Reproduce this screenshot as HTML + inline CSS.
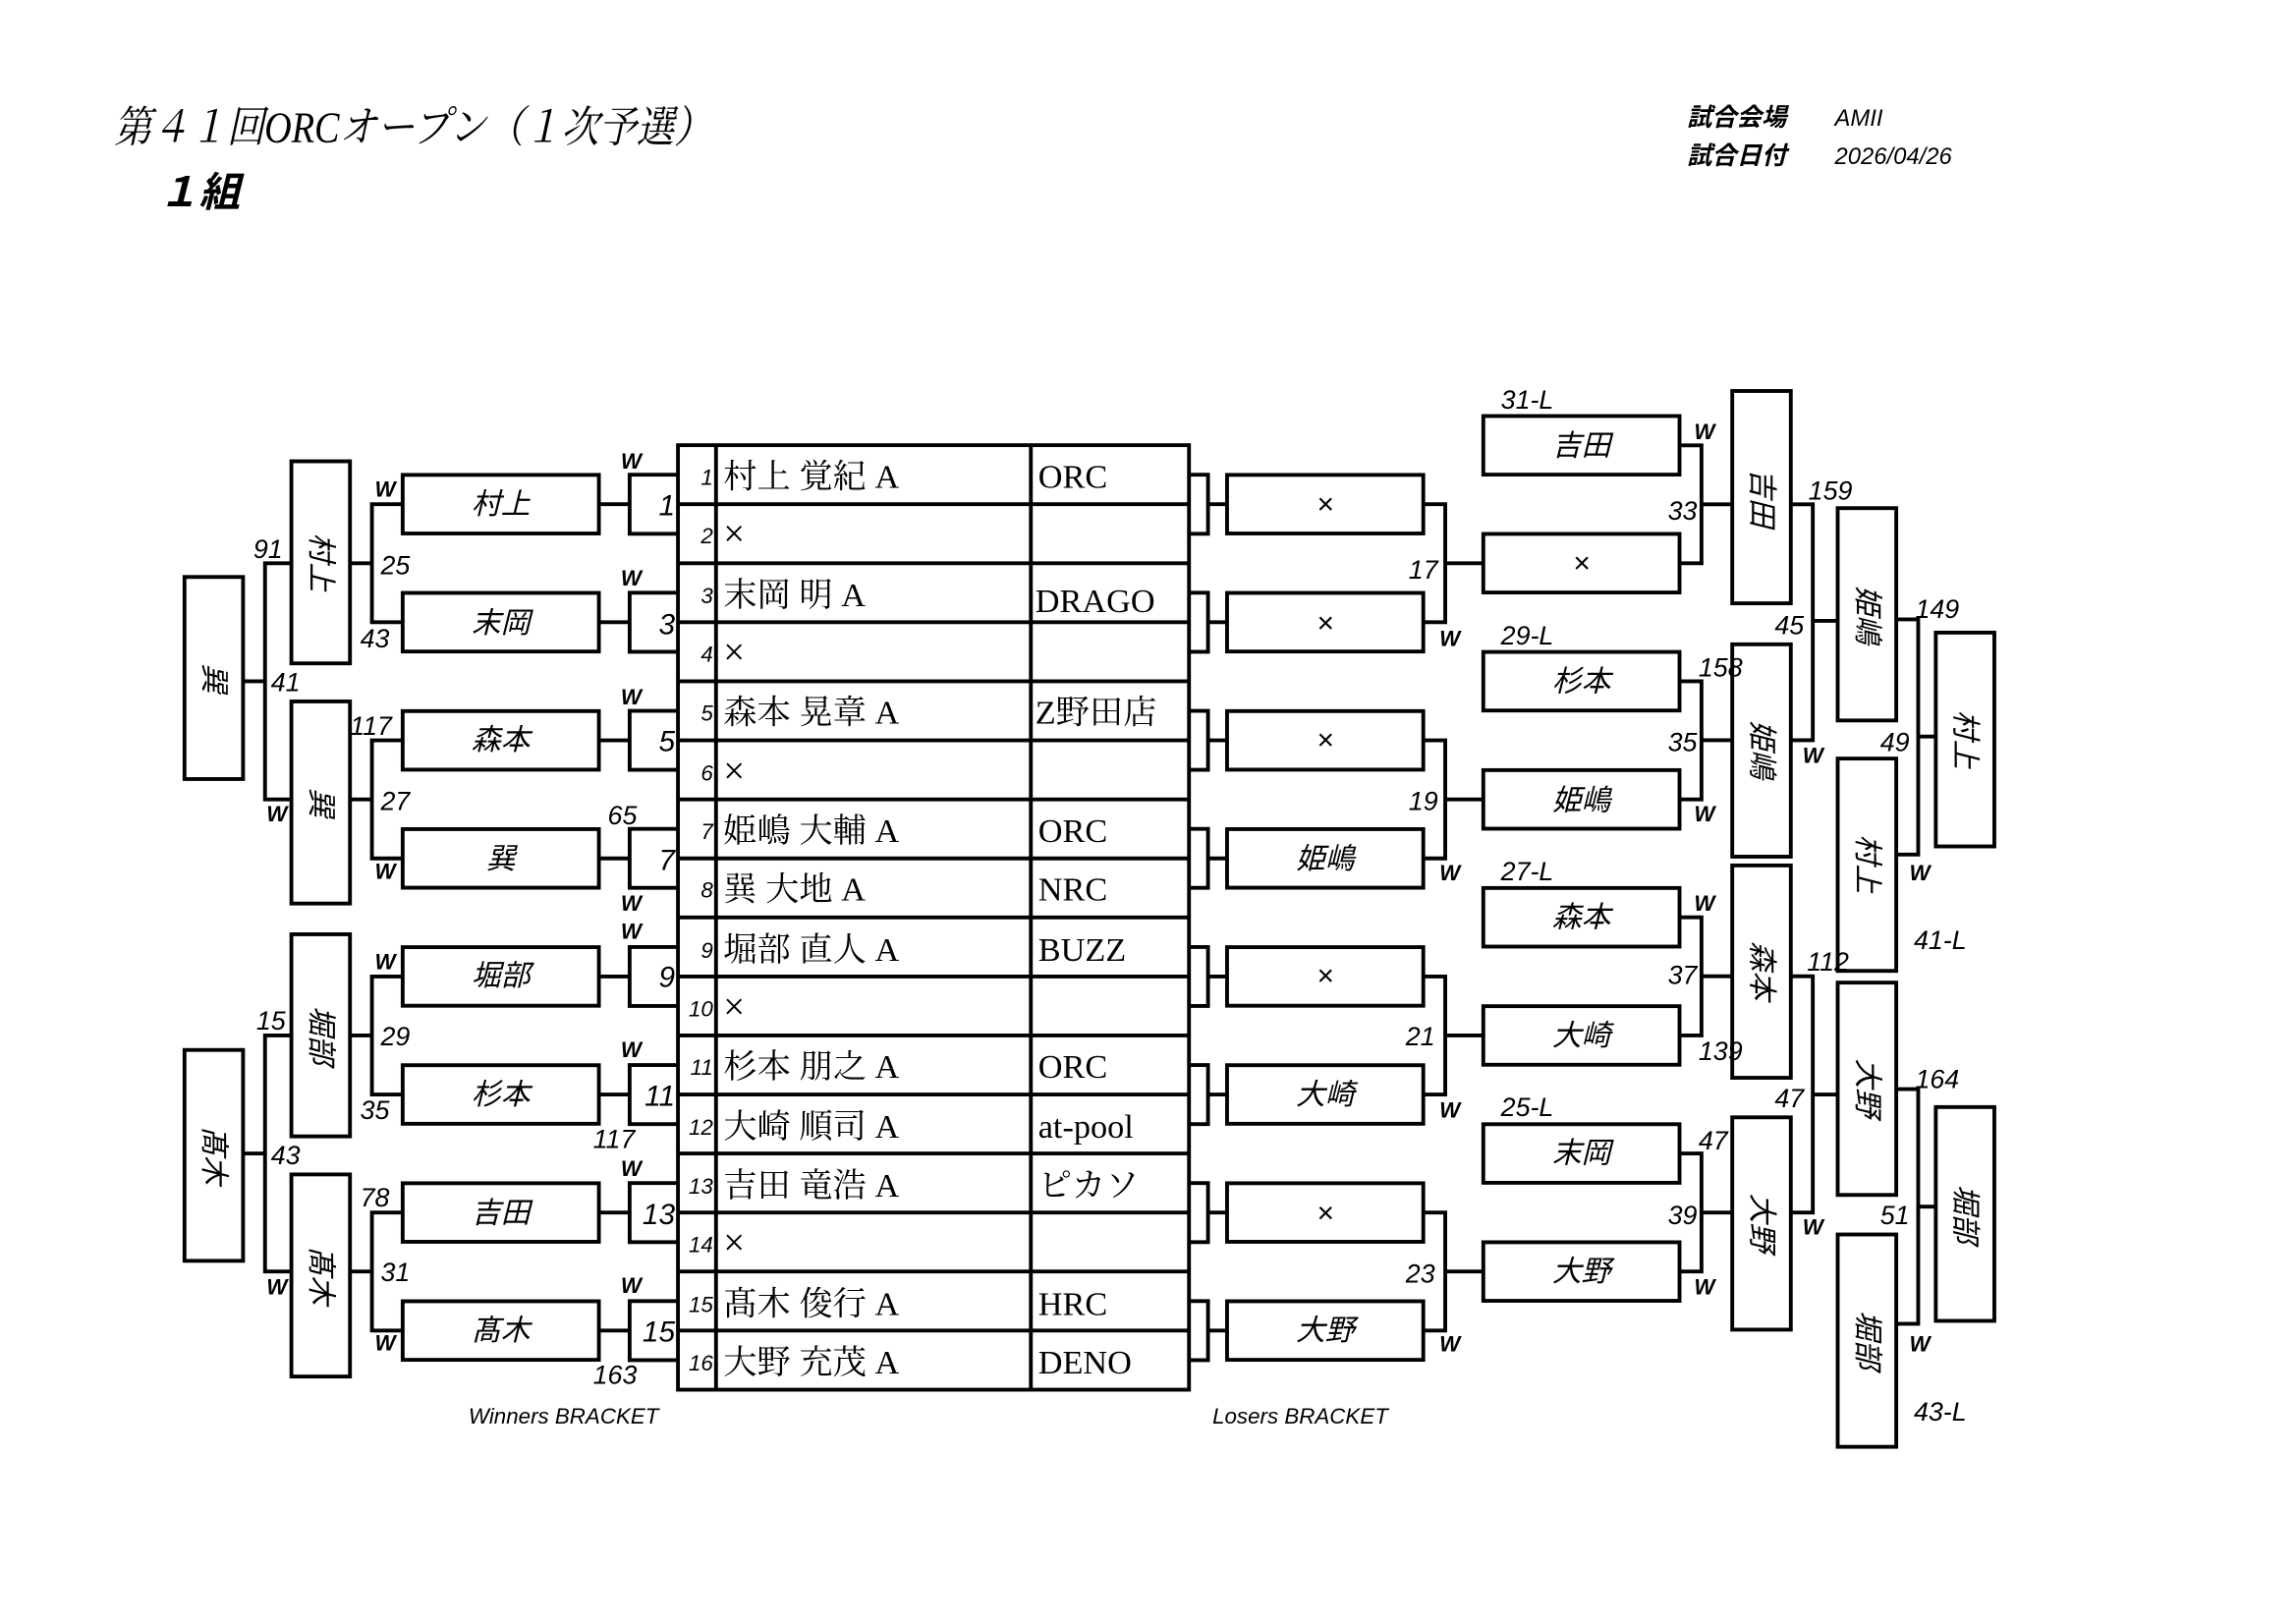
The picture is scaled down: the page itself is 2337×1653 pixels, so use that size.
<!DOCTYPE html>
<html><head><meta charset="utf-8"><style>
html,body{margin:0;padding:0;background:#fff;}
svg{display:block}
.j{font-family:"Liberation Sans","Noto Sans CJK JP",sans-serif;font-style:italic}
.s{font-family:"Liberation Serif","Noto Serif CJK JP",serif}
</style></head><body>
<svg width="2337" height="1653" viewBox="0 0 1568 1109" preserveAspectRatio="none" xmlns="http://www.w3.org/2000/svg">
<rect width="1568" height="1109" fill="#fff"/>
<text x="78" y="97" class="s" font-size="27" font-style="italic" transform="translate(78 97) scale(0.95 1.1) translate(-78 -97)">第４１回ORCオープン（１次予選）</text>
<text x="108" y="141" class="j" font-size="28" font-weight="bold">１組</text>
<text x="1152" y="86" class="j" font-size="17" font-weight="bold">試合会場</text>
<text x="1253" y="86" class="j" font-size="16">AMII</text>
<text x="1152" y="112" class="j" font-size="17" font-weight="bold">試合日付</text>
<text x="1253" y="112" class="j" font-size="16">2026/04/26</text>

<g fill="none" stroke="#000" stroke-width="2.6">
<rect x="463" y="304" width="349" height="645"/>
<path d="M489 304V949M704 304V949"/>
<path d="M463 344.3H812M463 384.6H812M463 424.9H812M463 465.2H812M463 505.6H812M463 545.9H812M463 586.2H812M463 626.5H812M463 666.8H812M463 707.1H812M463 747.4H812M463 787.7H812M463 828H812M463 868.3H812M463 908.6H812"/>
<path d="M463 324.2H430V364.5H463M430 344.3H409"/>
<path d="M463 404.8H430V445.1H463M430 424.9H409"/>
<path d="M463 485.4H430V525.7H463M430 505.6H409"/>
<path d="M463 566H430V606.3H463M430 586.2H409"/>
<path d="M463 646.7H430V687H463M430 666.8H409"/>
<path d="M463 727.3H430V767.6H463M430 747.4H409"/>
<path d="M463 807.9H430V848.2H463M430 828H409"/>
<path d="M463 888.5H430V928.8H463M430 908.6H409"/>
<rect x="275" y="324.3" width="134" height="40"/>
<rect x="275" y="404.9" width="134" height="40"/>
<rect x="275" y="485.6" width="134" height="40"/>
<rect x="275" y="566.2" width="134" height="40"/>
<rect x="275" y="646.8" width="134" height="40"/>
<rect x="275" y="727.4" width="134" height="40"/>
<rect x="275" y="808" width="134" height="40"/>
<rect x="275" y="888.6" width="134" height="40"/>
<path d="M275 344.3H254V424.9H275M254 384.6H239"/>
<path d="M275 505.6H254V586.2H275M254 545.9H239"/>
<path d="M275 666.8H254V747.4H275M254 707.1H239"/>
<path d="M275 828H254V908.6H275M254 868.3H239"/>
<rect x="199" y="315" width="40" height="138"/>
<rect x="199" y="479" width="40" height="138"/>
<rect x="199" y="638" width="40" height="138"/>
<rect x="199" y="802" width="40" height="138"/>
<path d="M199 384.6H181V545.9H199M181 465.2H166"/>
<path d="M199 707.1H181V868.3H199M181 787.7H166"/>
<rect x="126" y="394" width="40" height="138"/>
<rect x="126" y="717" width="40" height="144"/>
<path d="M812 324.2H825V364.5H812M825 344.3H838"/>
<path d="M812 404.8H825V445.1H812M825 424.9H838"/>
<path d="M812 485.4H825V525.7H812M825 505.6H838"/>
<path d="M812 566H825V606.3H812M825 586.2H838"/>
<path d="M812 646.7H825V687H812M825 666.8H838"/>
<path d="M812 727.3H825V767.6H812M825 747.4H838"/>
<path d="M812 807.9H825V848.2H812M825 828H838"/>
<path d="M812 888.5H825V928.8H812M825 908.6H838"/>
<rect x="838" y="324.3" width="134" height="40"/>
<rect x="838" y="404.9" width="134" height="40"/>
<rect x="838" y="485.6" width="134" height="40"/>
<rect x="838" y="566.2" width="134" height="40"/>
<rect x="838" y="646.8" width="134" height="40"/>
<rect x="838" y="727.4" width="134" height="40"/>
<rect x="838" y="808" width="134" height="40"/>
<rect x="838" y="888.6" width="134" height="40"/>
<path d="M972 344.3H987V424.9H972M987 384.6H1013"/>
<path d="M972 505.6H987V586.2H972M987 545.9H1013"/>
<path d="M972 666.8H987V747.4H972M987 707.1H1013"/>
<path d="M972 828H987V908.6H972M987 868.3H1013"/>
<rect x="1013" y="284.1" width="134" height="40"/>
<rect x="1013" y="364.6" width="134" height="40"/>
<rect x="1013" y="445.2" width="134" height="40"/>
<rect x="1013" y="525.9" width="134" height="40"/>
<rect x="1013" y="606.4" width="134" height="40"/>
<rect x="1013" y="687.1" width="134" height="40"/>
<rect x="1013" y="767.7" width="134" height="40"/>
<rect x="1013" y="848.3" width="134" height="40"/>
<path d="M1147 304.1H1162V384.6H1147M1162 344.4H1183"/>
<path d="M1147 465.2H1162V545.9H1147M1162 505.5H1183"/>
<path d="M1147 626.4H1162V707.1H1147M1162 666.7H1183"/>
<path d="M1147 787.7H1162V868.3H1147M1162 828H1183"/>
<rect x="1183" y="267" width="40" height="145"/>
<rect x="1183" y="440" width="40" height="145"/>
<rect x="1183" y="591" width="40" height="145"/>
<rect x="1183" y="763" width="40" height="145"/>
<path d="M1223 344.4H1238V505.5H1223M1238 424H1255"/>
<path d="M1223 666.7H1238V828H1223M1238 747.4H1255"/>
<rect x="1255" y="347" width="40" height="145"/>
<rect x="1255" y="518" width="40" height="145"/>
<rect x="1255" y="671" width="40" height="145"/>
<rect x="1255" y="843" width="40" height="145"/>
<path d="M1295 423H1310V583.6H1295M1310 503H1322"/>
<path d="M1295 743.7H1310V904H1295M1310 824H1322"/>
<rect x="1322" y="432" width="40" height="146"/>
<rect x="1322" y="756" width="40" height="146"/>
</g>

<g class="j" font-size="15" text-anchor="end">
<text x="487" y="331">1</text><text x="487" y="371">2</text><text x="487" y="412">3</text><text x="487" y="452">4</text>
<text x="487" y="492">5</text><text x="487" y="533">6</text><text x="487" y="573">7</text><text x="487" y="613">8</text>
<text x="487" y="654">9</text><text x="487" y="694">10</text><text x="487" y="734">11</text><text x="487" y="775">12</text>
<text x="487" y="815">13</text><text x="487" y="855">14</text><text x="487" y="896">15</text><text x="487" y="936">16</text>
</g>
<g class="s" font-size="23">
<text x="494" y="333">村上 覚紀 A</text><text x="494" y="373" font-size="26">×</text>
<text x="494" y="414">末岡 明 A</text><text x="494" y="454" font-size="26">×</text>
<text x="494" y="494">森本 晃章 A</text><text x="494" y="535" font-size="26">×</text>
<text x="494" y="575">姫嶋 大輔 A</text><text x="494" y="615">巽 大地 A</text>
<text x="494" y="656">堀部 直人 A</text><text x="494" y="696" font-size="26">×</text>
<text x="494" y="736">杉本 朋之 A</text><text x="494" y="777">大崎 順司 A</text>
<text x="494" y="817">吉田 竜浩 A</text><text x="494" y="857" font-size="26">×</text>
<text x="494" y="898">髙木 俊行 A</text><text x="494" y="938">大野 充茂 A</text>
<text x="709" y="333">ORC</text><text x="707" y="418">DRAGO</text>
<text x="707" y="494">Z野田店</text><text x="709" y="575">ORC</text>
<text x="709" y="615">NRC</text><text x="709" y="656">BUZZ</text>
<text x="709" y="736">ORC</text><text x="709" y="777">at-pool</text>
<text x="709" y="817">ピカソ</text><text x="709" y="898">HRC</text><text x="709" y="938">DENO</text>
</g>

<g class="j" font-size="20" text-anchor="middle">
<text x="342" y="351">村上</text><text x="342" y="432">末岡</text><text x="342" y="512">森本</text><text x="342" y="593">巽</text>
<text x="342" y="673">堀部</text><text x="342" y="754">杉本</text><text x="342" y="835">吉田</text><text x="342" y="915">髙木</text>
<text x="905" y="351">×</text><text x="905" y="432">×</text><text x="905" y="512">×</text><text x="905" y="593">姫嶋</text>
<text x="905" y="673">×</text><text x="905" y="754">大崎</text><text x="905" y="835">×</text><text x="905" y="915">大野</text>
<text x="1080" y="311">吉田</text><text x="1080" y="391">×</text><text x="1080" y="472">杉本</text><text x="1080" y="553">姫嶋</text>
<text x="1080" y="633">森本</text><text x="1080" y="714">大崎</text><text x="1080" y="794">末岡</text><text x="1080" y="875">大野</text>
</g>
<g class="j" font-size="20" text-anchor="middle" dominant-baseline="central">
<text transform="translate(219 384) rotate(90)">村上</text>
<text transform="translate(219 548) rotate(90)">巽</text>
<text transform="translate(219 707) rotate(90)">堀部</text>
<text transform="translate(219 871) rotate(90)">髙木</text>
<text transform="translate(146 463) rotate(90)">巽</text>
<text transform="translate(146 789) rotate(90)">髙木</text>
<text transform="translate(1203 340) rotate(90)">吉田</text>
<text transform="translate(1203 512) rotate(90)">姫嶋</text>
<text transform="translate(1203 663) rotate(90)">森本</text>
<text transform="translate(1203 835) rotate(90)">大野</text>
<text transform="translate(1275 420) rotate(90)">姫嶋</text>
<text transform="translate(1275 590) rotate(90)">村上</text>
<text transform="translate(1275 743) rotate(90)">大野</text>
<text transform="translate(1275 915) rotate(90)">堀部</text>
<text transform="translate(1342 505) rotate(90)">村上</text>
<text transform="translate(1342 829) rotate(90)">堀部</text>
</g>

<g class="j" font-size="20" text-anchor="end">
<text x="461" y="352">1</text><text x="461" y="433">3</text><text x="461" y="513">5</text><text x="461" y="594">7</text>
<text x="461" y="674">9</text><text x="461" y="755">11</text><text x="461" y="836">13</text><text x="461" y="916">15</text>
</g>
<g class="j" font-size="18">
<text x="260" y="392">25</text><text x="246" y="442">43</text><text x="239" y="502">117</text><text x="260" y="553">27</text>
<text x="415" y="563">65</text><text x="260" y="714">29</text><text x="246" y="764">35</text><text x="405" y="784">117</text>
<text x="246" y="824">78</text><text x="260" y="875">31</text><text x="405" y="945">163</text>
<text x="173" y="381">91</text><text x="185" y="472">41</text><text x="175" y="703">15</text><text x="185" y="795">43</text>
<text x="962" y="395">17</text><text x="962" y="553">19</text><text x="960" y="714">21</text><text x="960" y="876">23</text>
<text x="1139" y="355">33</text><text x="1160" y="462">158</text><text x="1139" y="513">35</text>
<text x="1139" y="672">37</text><text x="1160" y="724">139</text><text x="1160" y="785">47</text><text x="1139" y="836">39</text>
<text x="1235" y="341">159</text><text x="1212" y="433">45</text><text x="1234" y="663">112</text><text x="1212" y="756">47</text>
<text x="1308" y="422">149</text><text x="1284" y="513">49</text><text x="1308" y="743">164</text><text x="1284" y="836">51</text>
<text x="1025" y="279">31-L</text><text x="1025" y="440">29-L</text><text x="1025" y="601">27-L</text><text x="1025" y="762">25-L</text>
<text x="1307" y="648">41-L</text><text x="1307" y="970">43-L</text>
</g>
<g class="j" font-size="15" font-weight="bold">
<text x="424" y="320">W</text><text x="424" y="400">W</text><text x="424" y="481">W</text><text x="424" y="622">W</text>
<text x="424" y="641">W</text><text x="424" y="722">W</text><text x="424" y="803">W</text><text x="424" y="883">W</text>
<text x="256" y="339">W</text><text x="256" y="600">W</text><text x="256" y="662">W</text><text x="256" y="922">W</text>
<text x="182" y="561">W</text><text x="182" y="884">W</text>
<text x="983" y="441">W</text><text x="983" y="601">W</text><text x="983" y="763">W</text><text x="983" y="923">W</text>
<text x="1157" y="300">W</text><text x="1157" y="561">W</text><text x="1157" y="622">W</text><text x="1157" y="884">W</text>
<text x="1231" y="521">W</text><text x="1231" y="843">W</text>
<text x="1304" y="601">W</text><text x="1304" y="923">W</text>
</g>
<text x="320" y="972" font-family="Liberation Sans,sans-serif" font-style="italic" font-size="15">Winners BRACKET</text>
<text x="828" y="972" font-family="Liberation Sans,sans-serif" font-style="italic" font-size="15">Losers BRACKET</text>
</svg>
</body></html>
